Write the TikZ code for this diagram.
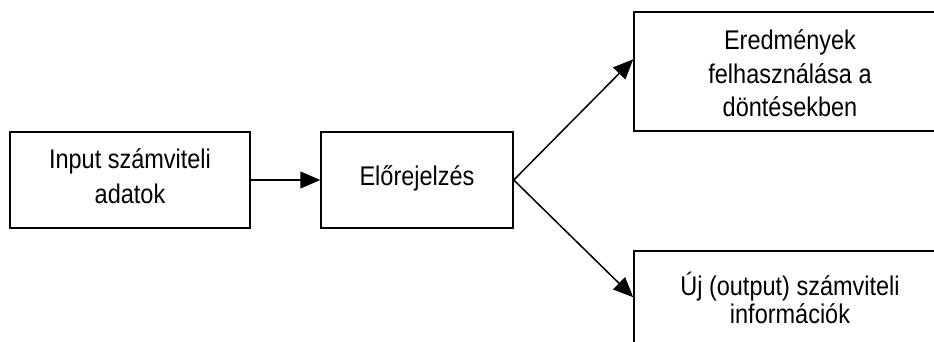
\documentclass[tikz,border=0pt]{standalone}
\usepackage{fontspec}
\setmainfont{Liberation Sans}[FakeStretch=0.87]
\usetikzlibrary{arrows.meta}
\newcommand\mystrut[2]{\rule[-#2]{0pt}{\dimexpr#1+#2\relax}}
\newcommand\boxfont[1]{\fontsize{27pt}{#1}\selectfont\lineskiplimit=-100pt\relax}
\begin{document}
\begin{tikzpicture}[x=1pt,y=-1pt,
  box/.style={draw=black, line width=1.5pt, rectangle, align=center, inner sep=0pt},
  arr/.style={line width=1.5pt, -{Triangle[length=20pt,width=17pt]}}]
\useasboundingbox (0,0) rectangle (934,342);
\clip (0,0) rectangle (934,342);
\node[box, minimum width=240pt, minimum height=96pt,
      font=\boxfont{35pt}] (inp) at (130,180)
  {\mystrut{24pt}{13pt}Input számviteli\\\mystrut{24pt}{13pt}adatok};
\node[box, minimum width=192pt, minimum height=96pt,
      font=\boxfont{28pt}] (elo) at (417,180)
  {\mystrut{24pt}{14pt}Előrejelzés};
\node[box, minimum width=312pt, minimum height=119pt,
      font=\boxfont{33.5pt}] (ered) at (790,71.5)
  {\mystrut{28pt}{4pt}Eredmények\\\mystrut{28pt}{4pt}felhasználása a\\\mystrut{28pt}{4pt}döntésekben};
\node[box, minimum width=312pt, minimum height=99pt,
      font=\boxfont{28pt}] (uj) at (790,300.5)
  {\mystrut{25pt}{8pt}Új (output) számviteli\\\mystrut{25pt}{8pt}információk};
\draw[arr] (inp.east) -- (elo.west);
\draw[arr] (elo.east) -- ([yshift=-48pt]ered.north west);
\draw[arr] (elo.east) -- ([yshift=-47pt]uj.north west);
\end{tikzpicture}
\end{document}
